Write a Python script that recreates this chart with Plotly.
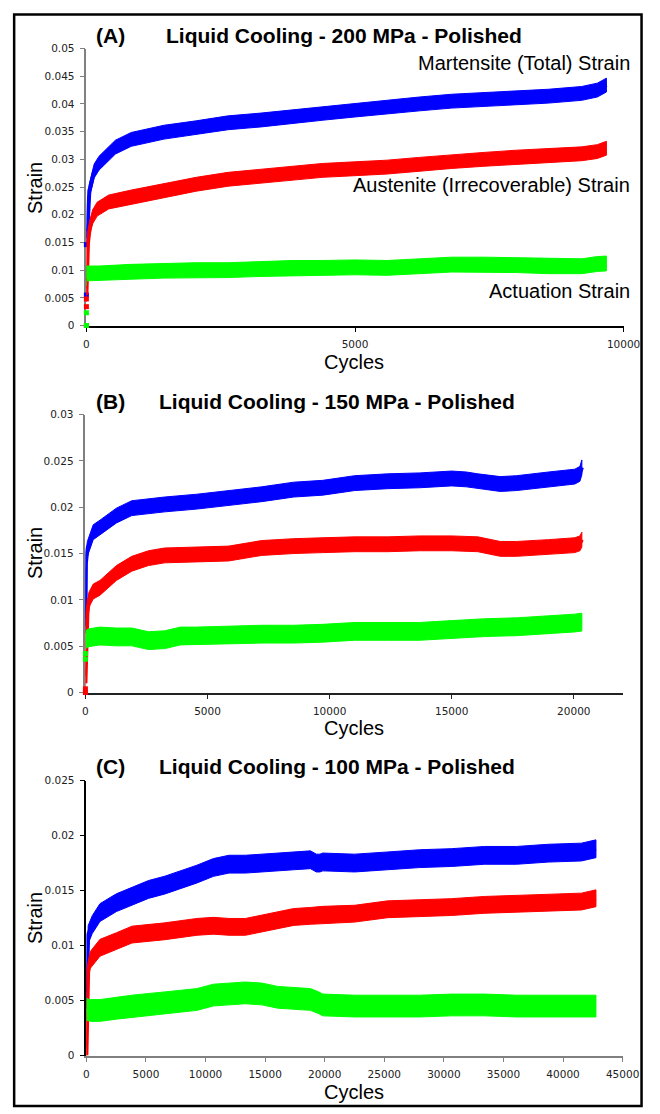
import plotly.graph_objects as go

W, H = 660, 1114

# ---------------- data ----------------
# Panel A : 200 MPa
A_blue_x = [0, 20, 55, 145, 235, 540, 835, 1445, 2045, 2640, 3250, 3850, 4390, 5000, 5600, 6200, 6800, 7400, 8010, 8600, 9220, 9510, 9680]
A_blue_y = [0.0158, 0.0175, 0.0243, 0.0279, 0.0293, 0.0322, 0.0336, 0.0349, 0.0357, 0.0366, 0.0371, 0.0377, 0.0383, 0.0389, 0.0395, 0.0400, 0.0405, 0.0408, 0.0411, 0.0414, 0.0419, 0.0425, 0.0434]
A_blue_pts = [0.0055, 0.0146]
A_red_x = [0, 10, 30, 60, 115, 200, 415, 835, 1445, 2045, 2640, 3250, 3850, 4390, 5000, 5600, 6200, 6800, 7400, 8010, 8600, 9220, 9510, 9680]
A_red_y = [0.0055, 0.0100, 0.0150, 0.0175, 0.0196, 0.0210, 0.0223, 0.0232, 0.0243, 0.0255, 0.0264, 0.0270, 0.0275, 0.0280, 0.0283, 0.0286, 0.0291, 0.0296, 0.0300, 0.0304, 0.0307, 0.0310, 0.0314, 0.0320]
A_red_pts = [0.0, 0.0034, 0.0048]
A_green_x = [0, 0, 100, 235, 835, 1445, 2045, 2640, 3250, 3850, 4390, 5000, 5600, 6200, 6800, 7400, 8010, 8600, 9220, 9510, 9680]
A_green_y = [0.0085, 0.0094, 0.0094, 0.0094, 0.0097, 0.0099, 0.0100, 0.0100, 0.0102, 0.0104, 0.0104, 0.0105, 0.0104, 0.0107, 0.0110, 0.0110, 0.0109, 0.0107, 0.0107, 0.0111, 0.0112]
A_green_pts = [0.0, 0.0023]

# Panel B : 150 MPa
B_blue_x = [0, 0, 20, 80, 200, 320, 595, 1270, 1900, 3250, 4560, 5870, 7220, 8530, 9720, 11030, 12380, 13690, 15000, 15600, 16070, 16990, 17660, 18970, 20040, 20250, 20330]
B_blue_y = [0.0072, 0.0105, 0.0140, 0.0155, 0.0164, 0.0173, 0.0178, 0.0191, 0.0199, 0.0203, 0.0206, 0.0210, 0.0214, 0.0219, 0.0221, 0.0226, 0.0228, 0.0229, 0.0231, 0.0230, 0.0228, 0.0225, 0.0226, 0.0230, 0.0233, 0.0236, 0.0243]
B_red_x = [0, 30, 80, 140, 320, 595, 1270, 1900, 2580, 3250, 4560, 5870, 7220, 8530, 9720, 11030, 12380, 13690, 15000, 16070, 16990, 17660, 18970, 20040, 20250, 20330]
B_red_y = [0.0010, 0.0045, 0.0085, 0.0100, 0.0109, 0.0113, 0.0129, 0.0139, 0.0145, 0.0148, 0.0149, 0.0150, 0.0156, 0.0158, 0.0159, 0.0160, 0.0160, 0.0161, 0.0161, 0.0160, 0.0155, 0.0155, 0.0157, 0.0159, 0.0161, 0.0165]
B_red_pts = [0.0, 0.0004]
B_green_x = [0, 120, 595, 1270, 1900, 2580, 3250, 3890, 4560, 5870, 7220, 8530, 9720, 11030, 12380, 13690, 15000, 16350, 17660, 18970, 20040, 20330]
B_green_y = [0.0057, 0.0059, 0.0061, 0.0060, 0.0060, 0.0056, 0.0057, 0.0061, 0.0061, 0.0062, 0.0063, 0.0063, 0.0064, 0.0066, 0.0066, 0.0066, 0.0068, 0.0070, 0.0071, 0.0073, 0.0075, 0.0076]
B_green_pts = [0.0036, 0.0042]

# Panel C : 100 MPa
C_blue_x = [0, 60, 150, 490, 1140, 2520, 3830, 5210, 6590, 7900, 9280, 10660, 11970, 13350, 14720, 16040, 17400, 18800, 19300, 19600, 19840, 22520, 25290, 27970, 30650, 33410, 36100, 38780, 41540, 42760]
C_blue_y = [0.0050, 0.0090, 0.0110, 0.0119, 0.0130, 0.0139, 0.0145, 0.0151, 0.0155, 0.0160, 0.0165, 0.0171, 0.0174, 0.0174, 0.0175, 0.0176, 0.0177, 0.0178, 0.0175, 0.0175, 0.0176, 0.0175, 0.0177, 0.0179, 0.0180, 0.0182, 0.0182, 0.0184, 0.0185, 0.0188]
C_red_x = [0, 60, 150, 330, 1140, 2520, 3830, 6590, 9280, 10660, 11970, 13350, 14720, 16040, 17400, 18800, 19840, 22520, 25290, 27970, 30650, 33410, 36100, 38780, 41540, 42760]
C_red_y = [0.0000, 0.0050, 0.0078, 0.0087, 0.0098, 0.0104, 0.0110, 0.0113, 0.0117, 0.0118, 0.0117, 0.0117, 0.0120, 0.0123, 0.0126, 0.0127, 0.0128, 0.0129, 0.0133, 0.0134, 0.0135, 0.0137, 0.0138, 0.0139, 0.0140, 0.0143]
C_green_x = [0, 330, 1140, 2520, 3830, 6590, 9280, 10660, 11970, 13350, 14720, 16040, 17400, 18800, 19500, 19840, 22520, 25290, 27970, 30650, 33410, 36100, 38780, 41540, 42760]
C_green_y = [0.0042, 0.0041, 0.0041, 0.0043, 0.0045, 0.0048, 0.0051, 0.0055, 0.0056, 0.0057, 0.0056, 0.0053, 0.0052, 0.0051, 0.0048, 0.0046, 0.0045, 0.0045, 0.0045, 0.0046, 0.0046, 0.0045, 0.0045, 0.0045, 0.0045]

titles = ["Liquid Cooling - 200 MPa - Polished",
          "Liquid Cooling - 150 MPa - Polished",
          "Liquid Cooling - 100 MPa - Polished"]
labels = ["(A)", "(B)", "(C)"]
curve_labels = ["Martensite (Total) Strain", "Austenite (Irrecoverable) Strain", "Actuation Strain"]

# ---------------- styling / layout ----------------
BLUE, RED, GREEN = "#0000FF", "#FF0000", "#00FF00"
TICKFONT = dict(family="DejaVu Sans", size=10.5, color="#222222")
FONT = "Liberation Sans, Arial"

panels = [
    dict(px0=86, px1=640, ptop=43, pbot=323, xmax=10000, ymax=0.05, ycol="#808080", xcol="#000000",
         title_y=30, title_x=166, lab_x=111, strain_y=184, cycles_y=360,
         series=[(A_blue_x, A_blue_y, A_blue_pts, BLUE, 14),
                 (A_red_x, A_red_y, A_red_pts, RED, 14),
                 (A_green_x, A_green_y, A_green_pts, GREEN, 15)]),
    dict(px0=85, px1=639, ptop=413, pbot=694, xmax=22000, ymax=0.03, ycol="#808080", xcol="#222222",
         title_y=400, title_x=159, lab_x=111, strain_y=553, cycles_y=730,
         series=[(B_blue_x, B_blue_y, [], BLUE, 15),
                 (B_red_x, B_red_y, B_red_pts, RED, 15),
                 (B_green_x, B_green_y, B_green_pts, GREEN, 18)]),
    dict(px0=86, px1=639, ptop=783, pbot=1061, xmax=45000, ymax=0.025, ycol="#000000", xcol="#808080",
         title_y=769, title_x=159, lab_x=111, strain_y=922, cycles_y=1098,
         series=[(C_blue_x, C_blue_y, [], BLUE, 18),
                 (C_red_x, C_red_y, [], RED, 17),
                 (C_green_x, C_green_y, [], GREEN, 22)]),
]

fig = go.Figure()
annotations = []
layout = dict(width=W, height=H, autosize=False, margin=dict(l=0, r=0, t=0, b=0, pad=0),
              paper_bgcolor="white", plot_bgcolor="white", showlegend=False)


def ann(text, xpx, ypx, size, xanchor="center", angle=0):
    return dict(text=text, x=xpx / W, y=1 - ypx / H, xref="paper", yref="paper",
                xanchor=xanchor, yanchor="middle", showarrow=False, textangle=angle,
                font=dict(family=FONT, size=size, color="black"))


for i, p in enumerate(panels):
    k = "" if i == 0 else str(i + 1)
    xa, ya = "x" + k, "y" + k
    ypx_per_unit = (p["pbot"] - p["ptop"]) / p["ymax"]
    for xs, ys, pts, col, thick in p["series"]:
        hw = thick / 2.0 / ypx_per_unit
        px_ = list(xs) + list(xs)[::-1]
        py_ = [v + hw for v in ys] + [v - hw for v in ys][::-1]
        fig.add_trace(go.Scatter(x=px_, y=py_, xaxis=xa, yaxis=ya, mode="lines", fill="toself",
                                 fillcolor=col, line=dict(color=col, width=1), hoverinfo="skip"))
        fig.add_trace(go.Scatter(x=xs, y=ys, xaxis=xa, yaxis=ya, mode="lines",
                                 line=dict(color=col, width=4), hoverinfo="skip"))
        if pts:
            fig.add_trace(go.Scatter(x=[0] * len(pts), y=pts, xaxis=xa, yaxis=ya, mode="markers",
                                     marker=dict(symbol="square", size=5, color=col),
                                     cliponaxis=False, hoverinfo="skip"))
    common = dict(showgrid=False, zeroline=False, showline=True, linewidth=1.5, ticks="outside",
                  ticklen=5, tickwidth=1.2, tickfont=TICKFONT, layer="below traces")
    layout["xaxis" + k] = dict(common, domain=[p["px0"] / W, p["px1"] / W], range=[0, p["xmax"]],
                               anchor=ya, dtick=5000, tick0=0, tickformat="d",
                               linecolor=p["xcol"], tickcolor=p["xcol"], ticklabelstandoff=3)
    layout["yaxis" + k] = dict(common, domain=[1 - p["pbot"] / H, 1 - p["ptop"] / H],
                               range=[0, p["ymax"]], anchor=xa, dtick=0.005, tick0=0,
                               linecolor=p["ycol"], tickcolor=p["ycol"], ticklabelstandoff=3)
    annotations += [
        ann("<b>" + labels[i] + "</b>", p["lab_x"], p["title_y"], 21),
        ann("<b>" + titles[i] + "</b>", p["title_x"], p["title_y"], 21, xanchor="left"),
        ann("Strain", 33, p["strain_y"], 20, angle=-90),
        ann("Cycles", 362, p["cycles_y"], 20),
    ]

for txt, ypx in zip(curve_labels, [58, 181, 288]):
    annotations.append(ann(txt, 649, ypx, 20, xanchor="right"))

layout["annotations"] = annotations
layout["shapes"] = [dict(type="rect", xref="paper", yref="paper", x0=11.5 / W, x1=658.5 / W,
                         y0=1 - 1112 / H, y1=1 - 8.5 / H, line=dict(color="black", width=2.5))]
fig.update_layout(**layout)
fig.write_html("out.html", config={"responsive": False})
